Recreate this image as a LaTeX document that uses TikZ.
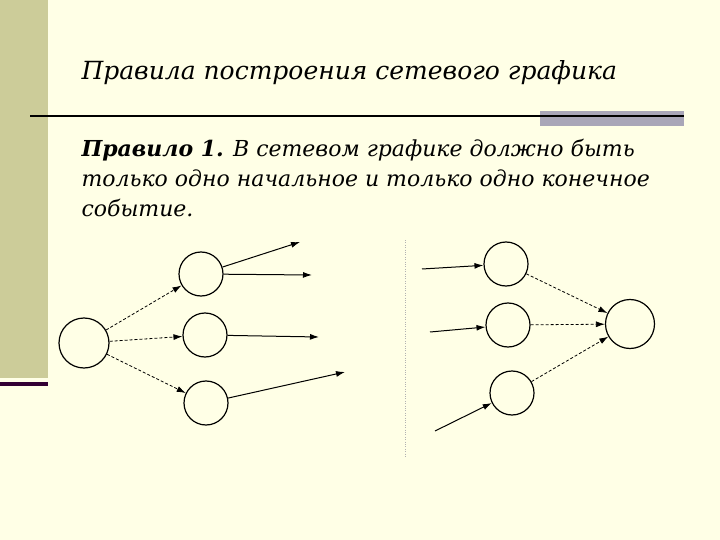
\documentclass[tikz,border=0pt]{standalone}
\usepackage{fontspec}
\setmainfont{DejaVu Serif}
\usetikzlibrary{arrows.meta}
\definecolor{slidebg}{HTML}{FFFFE6}
\definecolor{sidebar}{HTML}{CCCC99}
\definecolor{sideline}{HTML}{330033}
\definecolor{rulegrey}{HTML}{A9A6B8}

\begin{document}
\begin{tikzpicture}[x=1pt,y=-1pt
  ,event/.style={draw,circle,line width=1.2pt,minimum size=44pt,inner sep=0pt}
  ,work/.style={-{Latex[length=9pt,width=6pt]},line width=1pt}
  ,dummy/.style={-{Latex[length=9pt,width=6pt]},line width=0.8pt,dash pattern=on 3pt off 2pt}
  ,line/.style={anchor=base west,font=\itshape\fontsize{22}{30}\selectfont}
  ]
% slide background
\fill[slidebg] (0,0) rectangle (720,540);
\fill[sidebar] (0,0) rectangle (48,378);
\fill[sideline] (0,382) rectangle (48,386);
\fill[rulegrey] (540,111) rectangle (684,126);
\draw[line width=1.6pt] (30,116) -- (684,116);

% texts
\node[anchor=base west,font=\itshape\fontsize{25}{32}\selectfont] (title) at (78,80)
  {Правила построения сетевого графика};
\node[line] (rule1) at (78,157) {\textbf{Правило 1.} В сетевом графике должно быть};
\node[line] (rule2) at (78,187) {только одно начальное и только одно конечное};
\node[line] (rule3) at (78,217) {событие.};

% left graph: one start event
\node[event,minimum size=50pt] (s) at (84,343) {};
\node[event] (a) at (201,274) {};
\node[event] (b) at (205,335) {};
\node[event] (c) at (206,403) {};
\coordinate (a1) at (300,242);
\coordinate (a2) at (312,275);
\coordinate (b1) at (319,337);
\coordinate (c1) at (345,372);
\path[dummy]
  (s) edge (a)
      edge (b)
      edge (c);
\path[work]
  (a) edge (a1)
      edge (a2)
  (b) edge (b1)
  (c) edge (c1);

% divider
\coordinate (top) at (405,240);
\coordinate (bottom) at (405,457);
\draw[gray!60,dotted] (top) -- (bottom);

% right graph: one end event
\node[event] (d) at (506,264) {};
\node[event] (e) at (508,325) {};
\node[event] (f) at (512,393) {};
\node[event,minimum size=49pt] (t) at (630,324) {};
\coordinate (d0) at (422,269);
\coordinate (e0) at (430,332);
\coordinate (f0) at (435,431);
\path[work]
  (d0) edge (d)
  (e0) edge (e)
  (f0) edge (f);
\path[dummy]
  (d) edge (t)
  (e) edge (t)
  (f) edge (t);
\end{tikzpicture}
\end{document}
